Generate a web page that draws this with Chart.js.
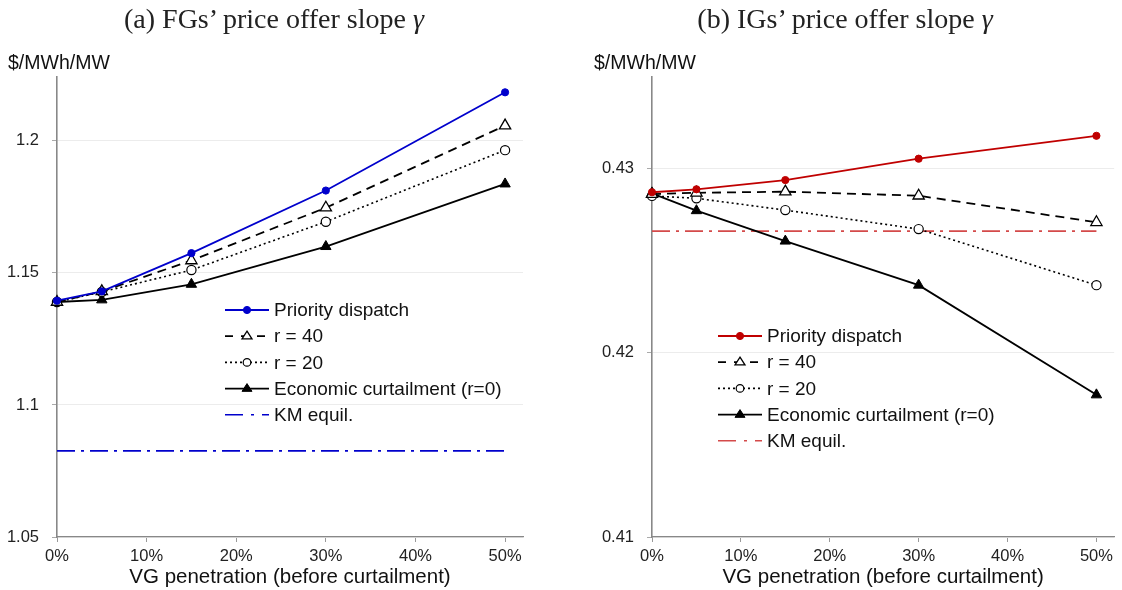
<!DOCTYPE html>
<html><head><meta charset="utf-8">
<script src="https://cdn.jsdelivr.net/npm/chart.js@4.4.0/dist/chart.umd.min.js"></script>
<style>
body{margin:0;background:#fff;}
#wrap{position:relative;width:1122px;height:590px;overflow:hidden;font-family:"Liberation Sans",Arial,sans-serif;}
.title{position:absolute;top:3px;font-family:"Liberation Serif","DejaVu Serif",serif;font-size:28px;color:#222;white-space:nowrap;transform:translateX(-50%);}
.unit{position:absolute;top:51px;font-size:19.5px;color:#111;white-space:nowrap;}
canvas{position:absolute;top:0;}
</style></head><body>
<div id="wrap">
<canvas id="c1" width="561" height="590" style="left:0"></canvas>
<canvas id="c2" width="561" height="590" style="left:561px"></canvas>
<div class="title" style="left:274px">(a) FGs’ price offer slope <i>γ</i></div>
<div class="title" style="left:845px">(b) IGs’ price offer slope <i>γ</i></div>
<div class="unit" style="left:8px">$/MWh/MW</div>
<div class="unit" style="left:594px">$/MWh/MW</div>
</div>
<script>
// ---- data ----
const penetration = [0, 0.05, 0.15, 0.30, 0.50];
const kmX = [0, 0.50];
const xTickValues = [0, 0.1, 0.2, 0.3, 0.4, 0.5];
const seriesNames = ['Priority dispatch', 'r = 40', 'r = 20', 'Economic curtailment (r=0)', 'KM equil.'];
const xTitle = 'VG penetration (before curtailment)';

const fgPriority = [1.1395, 1.1430, 1.1575, 1.1812, 1.2184];
const fgR40      = [1.1390, 1.1430, 1.1547, 1.1747, 1.2058];
const fgR20      = [1.1390, 1.1428, 1.1511, 1.1694, 1.1965];
const fgEcon     = [1.1390, 1.1398, 1.1457, 1.1600, 1.1837];
const fgKM       = [1.0826, 1.0826];
const fgYTicks   = [1.05, 1.1, 1.15, 1.2];

const igPriority = [0.42870, 0.42886, 0.42936, 0.43052, 0.43176];
const igR40      = [0.42860, 0.42867, 0.42873, 0.42851, 0.42707];
const igR20      = [0.42850, 0.42837, 0.42773, 0.42670, 0.42366];
const igEcon     = [0.42864, 0.42770, 0.42605, 0.42366, 0.41771];
const igKM       = [0.42659, 0.42659];
const igYTicks   = [0.41, 0.42, 0.43];

// ---- helpers ----
function pts(xs, ys){ return xs.map((x,i)=>({x:x, y:ys[i]})); }

function drawMarker(ctx, style, r, x, y, fill, stroke, bw){
  ctx.save();
  ctx.setLineDash([]);
  ctx.beginPath();
  if(style==='circle'){ ctx.arc(x,y,r,0,Math.PI*2); }
  else if(style==='triangle'){
    ctx.moveTo(x, y - r);
    ctx.lineTo(x + r*0.866*1.15, y + r*0.5*1.1);
    ctx.lineTo(x - r*0.866*1.15, y + r*0.5*1.1);
    ctx.closePath();
  }
  ctx.fillStyle = fill; ctx.fill();
  ctx.lineWidth = bw; ctx.strokeStyle = stroke; ctx.stroke();
  ctx.restore();
}

const legendPlugin = {
  id:'customLegend',
  afterDraw(chart, args, opts){
    const ctx = chart.ctx;
    chart.data.datasets.forEach((ds,i)=>{
      const y = opts.y + i*opts.gap;
      const x0 = opts.x, len = opts.len;
      ctx.save();
      ctx.strokeStyle = ds.borderColor;
      ctx.lineWidth = ds.borderWidth;
      ctx.setLineDash(ds.legendDash || ds.borderDash || []);
      ctx.beginPath(); ctx.moveTo(x0,y); ctx.lineTo(x0+len,y); ctx.stroke();
      ctx.restore();
      if(ds.pointRadius>0){
        drawMarker(ctx, ds.pointStyle, ds.legendRadius, x0+len/2, y, ds.pointBackgroundColor, ds.pointBorderColor, ds.pointBorderWidth);
      }
      ctx.save();
      ctx.font = '19px "Liberation Sans", Arial, sans-serif';
      ctx.fillStyle = '#111';
      ctx.textBaseline = 'middle';
      ctx.fillText(seriesNames[i], x0+len+5, y+1);
      ctx.restore();
    });
  }
};

function makeChart(id, d, cfg){
  const baseFont = {family:'"Liberation Sans", Arial, sans-serif', size:16.5};
  const datasets = [
    {data:pts(penetration,d.pri), borderColor:cfg.priColor, borderWidth:1.8, pointStyle:'circle', pointRadius:3.6,
     pointBackgroundColor:cfg.priColor, pointBorderColor:cfg.priColor, pointBorderWidth:1, legendRadius:3.6},
    {data:pts(penetration,d.r40), borderColor:'#000', borderWidth:1.8, borderDash:[9,6], legendDash:[8,8],
     pointStyle:'triangle', pointRadius:6.5, pointBackgroundColor:'#fff', pointBorderColor:'#000', pointBorderWidth:1.3, legendRadius:5},
    {data:pts(penetration,d.r20), borderColor:'#000', borderWidth:1.6, borderDash:[2,3],
     pointStyle:'circle', pointRadius:4.6, pointBackgroundColor:'#fff', pointBorderColor:'#000', pointBorderWidth:1.2, legendRadius:3.8},
    {data:pts(penetration,d.econ), borderColor:'#000', borderWidth:1.8,
     pointStyle:'triangle', pointRadius:6, pointBackgroundColor:'#000', pointBorderColor:'#000', pointBorderWidth:1, legendRadius:5},
    {data:pts(kmX,d.km), borderColor:cfg.kmColor, borderWidth:1.6, borderDash:[18,6,3,6], legendDash:[18,8,3,8],
     pointRadius:0, pointHoverRadius:0}
  ];
  datasets.forEach(ds=>{ ds.clip=false; ds.tension=0; ds.fill=false; });
  return new Chart(document.getElementById(id), {
    type:'line',
    data:{datasets},
    plugins:[legendPlugin],
    options:{
      responsive:false, animation:false, devicePixelRatio:1,
      layout:{padding:{top:77, left:0, right:cfg.padRight, bottom:0}},
      plugins:{legend:{display:false}, tooltip:{enabled:false}, title:{display:false},
        customLegend:{x:cfg.legX, y:cfg.legY, gap:26.2, len:44}},
      scales:{
        x:{type:'linear', min:0, max:0.52,
          afterBuildTicks:s=>{ s.ticks = xTickValues.map(v=>({value:v})); },
          afterFit:s=>{ s.height = 53; },
          ticks:{callback:v=>Math.round(v*100)+'%', font:baseFont, color:'#222', padding:5, maxRotation:0, autoSkip:false},
          grid:{drawOnChartArea:false, tickLength:5, tickColor:'#999', tickWidth:1},
          border:{color:'#888', width:1.3},
          title:{display:true, text:xTitle, font:{family:'"Liberation Sans", Arial, sans-serif', size:20.5}, color:'#111', padding:{top:0,bottom:0}}
        },
        y:{type:'linear', min:cfg.yMin, max:cfg.yMax,
          afterBuildTicks:s=>{ s.ticks = cfg.yTicks.map(v=>({value:v})); },
          afterFit:s=>{ s.width = cfg.yWidth; },
          ticks:{callback:v=>String(+v.toFixed(3)), font:baseFont, color:'#222', padding:13},
          grid:{color:'#ececec', lineWidth:1, tickLength:5, tickColor:'#aaa'},
          border:{color:'#888', width:1.6}
        }
      }
    }
  });
}

makeChart('c1', {pri:fgPriority, r40:fgR40, r20:fgR20, econ:fgEcon, km:fgKM},
  {priColor:'#0000cc', kmColor:'#0000cc', yMin:1.05, yMax:1.2242, yTicks:fgYTicks, yWidth:57, padRight:38, legX:225, legY:310});
makeChart('c2', {pri:igPriority, r40:igR40, r20:igR20, econ:igEcon, km:igKM},
  {priColor:'#c00000', kmColor:'#d44a4a', yMin:0.41, yMax:0.43495, yTicks:igYTicks, yWidth:91, padRight:5, legX:157, legY:336});
</script>
</body></html>
